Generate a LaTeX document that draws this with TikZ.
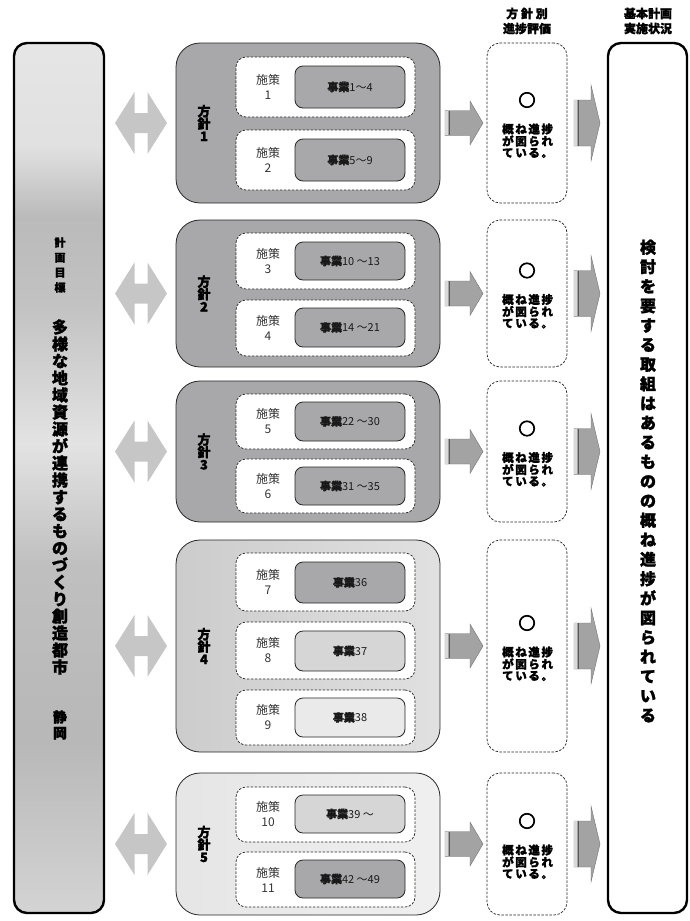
\documentclass[tikz,border=0pt]{standalone}
\usepackage{fontspec}
\setmainfont{Noto Sans CJK JP}
\newfontfamily\heavy{Noto Sans CJK JP}[FakeBold=1.6]
\newfontfamily\heavier{Noto Sans CJK JP}[FakeBold=5]
\usetikzlibrary{calc}
\definecolor{gmid}{HTML}{A8A8AA}
\definecolor{glt}{HTML}{D6D6D6}
\definecolor{gvlt}{HTML}{EAEAEA}
\definecolor{garrow}{HTML}{C6C6C6}
\definecolor{garr}{HTML}{A3A3A3}
\definecolor{txtgray}{HTML}{333333}
\pgfdeclareverticalshading{leftpanel}{100bp}{%
 color(0bp)=(black!17); color(25bp)=(black!17); color(35bp)=(black!28);
 color(45bp)=(black!25); color(52bp)=(black!11); color(60bp)=(black!24);
 color(65bp)=(black!27); color(69bp)=(black!12); color(75bp)=(black!10);
 color(100bp)=(black!10)}
\newcommand\bx[6]{\node[#2,anchor=north west,inner sep=0pt,outer sep=0pt,
  minimum width={#5pt-#3pt},minimum height={#6pt-#4pt}] (#1) at (#3,#4) {};}
\newcommand\myksp{\kern1.6pt}
\newcommand\jg{{\heavy\bfseries 事業}}
\tikzset{
 blk/.style={draw=black!85,line width=0.8pt,rounded corners=24pt},
 sak/.style={draw=black!85,dashed,dash pattern=on 2.5pt off 1.5pt,line width=0.7pt,rounded corners=10pt,fill=white},
 jig/.style={draw=black!85,line width=0.8pt,rounded corners=8pt},
 evbox/.style={draw=black!85,dashed,dash pattern=on 2.5pt off 1.5pt,line width=0.7pt,rounded corners=13pt,fill=white},
 panel/.style={draw=black,line width=2.4pt,rounded corners=13pt},
 saktxt/.style={align=center,text=txtgray,font=\fontsize{12}{15}\selectfont,inner sep=0pt},
 jigtxt/.style={font=\fontsize{11}{12}\selectfont,inner sep=0pt,text=black!90},
 hoshin/.style={align=center,font=\heavy\bfseries\fontsize{13}{12.5}\selectfont,inner sep=0pt},
 evtxt/.style={anchor=west,font=\heavy\bfseries\fontsize{11.5}{12}\selectfont,inner sep=0pt},
 circtxt/.style={font=\heavier\bfseries\fontsize{17}{17}\selectfont,inner sep=0pt},
 hdr/.style={align=center,font=\heavy\bfseries\fontsize{12}{15}\selectfont,inner sep=0pt},
 vtxt/.style={align=center,inner sep=0pt},
}
\begin{document}
\begin{tikzpicture}[x=1pt,y=-1pt]
\useasboundingbox (0,0) rectangle (689,921);
% headers
\node[hdr] (h1) at (527,21) {方 針 別\\進捗評価};
\node[hdr] (h2) at (648,21) {基本計画\\実施状況};
% side panels
\bx{lp}{panel,shading=leftpanel}{14}{43}{104}{913}
\bx{rp}{panel,fill=white}{608}{43}{687}{913}
\node[vtxt,font=\heavy\bfseries\fontsize{11}{15}\selectfont] (lt1) at (60,265) {計\\画\\目\\標};
\node[vtxt,font=\heavy\bfseries\fontsize{16}{17}\selectfont] (lt2) at (60,497) {多\\様\\な\\地\\域\\資\\源\\が\\連\\携\\す\\る\\も\\の\\づ\\く\\り\\創\\造\\都\\市};
\node[vtxt,font=\heavy\bfseries\fontsize{14}{16}\selectfont] (lt3) at (60,725) {静\\岡};
\node[vtxt,font=\heavy\bfseries\fontsize{16}{19.5}\selectfont] (rt) at (648,481) {検\\討\\を\\要\\す\\る\\取\\組\\は\\あ\\る\\も\\の\\の\\概\\ね\\進\\捗\\が\\図\\ら\\れ\\て\\い\\る};
% blocks
\bx{b1}{blk,fill=gmid}{176}{43}{440}{203}
\bx{b2}{blk,fill=gmid}{176}{220}{440}{367}
\bx{b3}{blk,fill=gmid}{176}{381}{440}{522}
\bx{b4}{blk,left color=black!20,right color=black!12}{176}{540}{440}{752}
\bx{b5}{blk,left color=black!10,right color=black!6}{176}{773}{440}{915}
% sub boxes
\bx{s1}{sak}{236}{57}{415}{117}   \bx{j1}{jig,fill=gmid}{295}{66}{405}{108}
\bx{s2}{sak}{236}{130}{415}{190}  \bx{j2}{jig,fill=gmid}{295}{139}{405}{181}
\bx{s3}{sak}{236}{233}{415}{289}  \bx{j3}{jig,fill=gmid}{295}{242}{405}{280}
\bx{s4}{sak}{236}{300}{415}{356}  \bx{j4}{jig,fill=gmid}{295}{308}{405}{347}
\bx{s5}{sak}{236}{394}{415}{449}  \bx{j5}{jig,fill=gmid}{295}{402}{405}{441}
\bx{s6}{sak}{236}{459}{415}{513}  \bx{j6}{jig,fill=gmid}{295}{467}{405}{505}
\bx{s7}{sak}{236}{553}{415}{611}  \bx{j7}{jig,fill=gmid}{295}{562}{405}{603}
\bx{s8}{sak}{236}{622}{415}{679}  \bx{j8}{jig,fill=glt}{295}{631}{405}{671}
\bx{s9}{sak}{236}{690}{415}{745}  \bx{j9}{jig,fill=gvlt}{295}{698}{405}{737}
\bx{s10}{sak}{236}{787}{415}{842} \bx{j10}{jig,fill=glt}{295}{795}{405}{833}
\bx{s11}{sak}{236}{852}{415}{907} \bx{j11}{jig,fill=gmid}{295}{860}{405}{898}
% sub box texts
\foreach \i in {1,...,11}{
  \node[saktxt] (st\i) at ($(s\i.west)+(32,0)$) {施策\\\i};
}
\node[jigtxt] (jt1) at (j1) {\jg 1～4};
\node[jigtxt] (jt2) at (j2) {\jg 5～9};
\node[jigtxt] (jt3) at (j3) {\jg 10 ～13};
\node[jigtxt] (jt4) at (j4) {\jg 14 ～21};
\node[jigtxt] (jt5) at (j5) {\jg 22 ～30};
\node[jigtxt] (jt6) at (j6) {\jg 31 ～35};
\node[jigtxt] (jt7) at (j7) {\jg 36};
\node[jigtxt] (jt8) at (j8) {\jg 37};
\node[jigtxt] (jt9) at (j9) {\jg 38};
\node[jigtxt] (jt10) at (j10) {\jg 39 ～};
\node[jigtxt] (jt11) at (j11) {\jg 42 ～49};
% hoshin labels, eval boxes, arrows
\foreach \k/\t/\b in {1/43/203,2/220/367,3/381/522,4/540/752,5/773/915}{
  \pgfmathsetmacro\cy{(\t+\b)/2}
  \node[hoshin] (hl\k) at (204,\cy) {方\\針\\\k};
  \bx{e\k}{evbox}{487}{\t}{567}{\b}
  \node[circtxt] (ec\k) at (527,\cy-23) {○};
  \node[evtxt] (ea\k) at (502,\cy+6) {概\myksp ね\myksp 進\myksp 捗};
  \node[evtxt] (eb\k) at (502,\cy+18) {が\myksp 図\myksp ら\myksp れ};
  \node[evtxt] (ed\k) at (502,\cy+30) {て\myksp い\myksp る\myksp 。};
  \begin{scope}[shift={(0,\cy)}]
    % double arrow
    \fill[garrow] (115,0) -- (134.5,-31) -- (134.5,-10) -- (147.5,-10) -- (147.5,-31) -- (167,0)
      -- (147.5,31) -- (147.5,10) -- (134.5,10) -- (134.5,31) -- cycle;
    % block -> eval arrow
    \filldraw[fill=garr,draw=black!55,line width=0.4pt] (445,-12.5) -- (470,-12.5) -- (470,-22) -- (483,0)
      -- (470,22) -- (470,12.5) -- (445,12.5) -- cycle;
    \fill[black!15] (445.3,-12.2) rectangle (448,12.2);
    \draw[black!65,line width=0.9pt] (449,-12.2) -- (449,12.2);
    % eval -> panel arrow
    \filldraw[fill=garr,draw=black!55,line width=0.4pt] (574,-23) -- (591,-23) -- (591,-38) -- (600,0)
      -- (591,38) -- (591,23) -- (574,23) -- cycle;
    \fill[black!15] (574.3,-22.7) rectangle (577,22.7);
    \draw[black!65,line width=0.9pt] (578,-22.7) -- (578,22.7);
  \end{scope}
}
\end{tikzpicture}
\end{document}
